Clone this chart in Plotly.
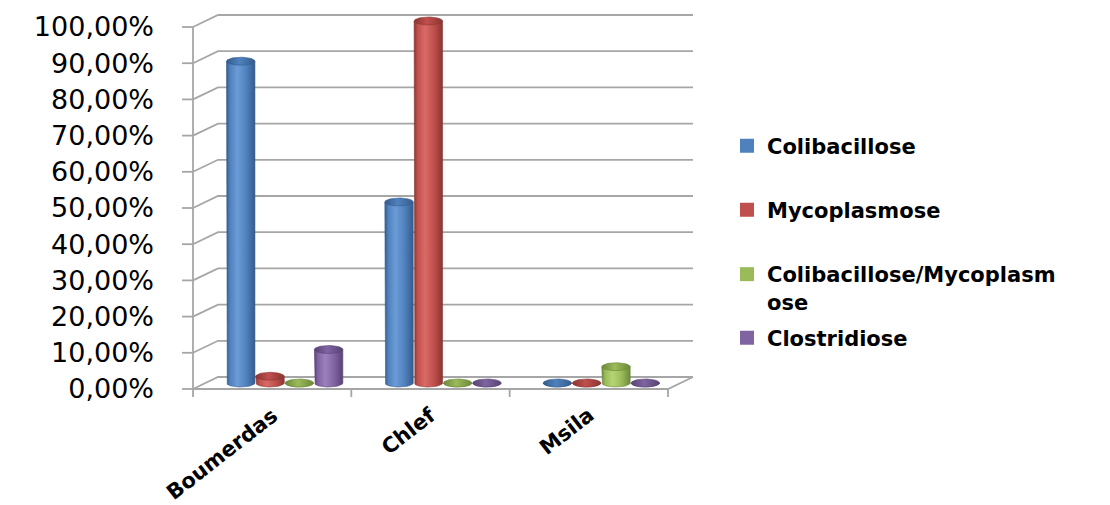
import numpy as np
import plotly.graph_objects as go

# ---- data -------------------------------------------------------------
regions = ["Boumerdas", "Chlef", "Msila"]
series = ["Colibacillose", "Mycoplasmose", "Colibacillose/Mycoplasmose", "Clostridiose"]
legend_labels = ["Colibacillose", "Mycoplasmose", "Colibacillose/Mycoplasm<br>ose", "Clostridiose"]

colibacillose = [88.89, 50.00, 0.00]
mycoplasmose = [1.85, 100.00, 0.00]
coli_myco = [0.00, 0.00, 4.50]
clostridiose = [9.26, 0.00, 0.00]
values = [colibacillose, mycoplasmose, coli_myco, clostridiose]

y_ticks = list(range(0, 101, 10))
y_tick_text = [f"{v:.2f}".replace(".", ",") + "%" for v in y_ticks]

# ---- palette (base, dark edge, highlight) -----------------------------
palette = [
    ("#4F81BD", "#345C8D", "#6C9CD8"),
    ("#C0504D", "#8A3532", "#D96A66"),
    ("#9BBB59", "#6C883A", "#B6D474"),
    ("#8064A2", "#574274", "#9C80BE"),
]

# ---- pseudo-3D geometry (axis units) ----------------------------------
PX_X = 475 / 3          # pixels per category unit
PX_Y = 3.62             # pixels per percent
DX = 25 / PX_X          # depth offset to the back wall
DY = 12 / PX_Y
BW = 29.3 / PX_X        # cylinder diameter
EB = 4.0 / PX_Y         # ellipse half-height

FRONT_LEFT_PX, FLOOR_PX = 193, 389
xlo, xhi = -0.5 - 20 / PX_X, 2.5 + DX + 3 / PX_X
ylo, yhi = -10 / PX_Y, 100 + DY + 3 / PX_Y
m_l = FRONT_LEFT_PX + (xlo + 0.5) * PX_X
m_r = 1110 - (FRONT_LEFT_PX + (xhi + 0.5) * PX_X)
m_t = FLOOR_PX - yhi * PX_Y
m_b = 505 - (FLOOR_PX - ylo * PX_Y)
plot_h = 505 - m_t - m_b
plot_w = 1110 - m_l - m_r

fig = go.Figure()

GRID = "#A6A6A6"

# walls, floor and gridlines
gx, gy = [], []
for v in y_ticks:
    gx += [-0.5, -0.5 + DX, 2.5 + DX, None]
    gy += [v, v + DY, v + DY, None]
# front value axis with its tick marks
gx += [-0.5, -0.5, None]
gy += [0, 100, None]
for v in y_ticks:
    gx += [-0.5 - 11 / PX_X, -0.5, None]
    gy += [v, v, None]
# floor front edge, right edge and category ticks
gx += [-0.5, 2.5, 2.5 + DX, None]
gy += [0, 0, DY, None]
for k in range(len(regions) + 1):
    gx += [-0.5 + k, -0.5 + k, None]
    gy += [0, -8 / PX_Y, None]
fig.add_trace(go.Scatter(x=gx, y=gy, mode="lines", line=dict(color=GRID, width=1.8),
                         hoverinfo="skip", showlegend=False))

# cylinders
theta = np.linspace(0, np.pi, 40)
theta_full = np.linspace(0, 2 * np.pi, 80)
yb = DY / 2
for i, region in enumerate(regions):
    for k, name in enumerate(series):
        base, dark, light = palette[k]
        val = values[k][i]
        xc = i + (k - 1.5) * BW + DX / 2
        a = BW / 2 * 0.97
        yt = yb + val
        # body: sides plus the front half of the bottom rim
        bx = [xc - a, xc - a] + list(xc - a * np.cos(theta)) + [xc + a, xc - a]
        by = [yt, yb] + list(yb - EB * np.sin(theta)) + [yt, yt]
        fig.add_trace(go.Scatter(
            x=bx, y=by, mode="lines", fill="toself",
            line=dict(color=dark, width=0.6),
            fillgradient=dict(type="horizontal",
                              colorscale=[[0, dark], [0.12, base], [0.38, light],
                                          [0.7, base], [1, dark]]),
            hovertemplate=f"{region}<br>{name}: {val:.2f}%<extra></extra>".replace(".", ","),
            showlegend=False))
        # top cap
        cx = xc + a * np.cos(theta_full)
        cy = yt + EB * np.sin(theta_full)
        fig.add_trace(go.Scatter(
            x=cx, y=cy, mode="lines", fill="toself",
            line=dict(color=dark, width=0.6),
            fillgradient=dict(type="horizontal",
                              colorscale=[[0, dark], [0.45, base], [1, dark]]),
            hoverinfo="skip", showlegend=False))

# legend entries, one legend box per series
legend_centers = [146, 210, 288, 338]
legend_left_px = 727
for k, label in enumerate(legend_labels):
    lname = "legend" if k == 0 else f"legend{k + 1}"
    fig.add_trace(go.Scatter(x=[None], y=[None], name=label, mode="markers",
                             marker=dict(symbol="square", size=14, color=palette[k][0]),
                             legend=lname, showlegend=True))
    fig.layout[lname] = dict(
        x=(legend_left_px - m_l) / plot_w,
        y=(505 - m_b - legend_centers[k]) / plot_h,
        xanchor="left", yanchor="middle", valign="top",
        bgcolor="rgba(0,0,0,0)", borderwidth=0,
        font=dict(family="DejaVu Sans", size=21, color="black", weight="bold"),
    )

# category labels
for i, region in enumerate(regions):
    fig.add_annotation(x=i + 13 / PX_X, y=(505 - m_b - 400) / plot_h,
                       xref="x", yref="paper", text=region, showarrow=False,
                       textangle=-38, xanchor="right", yanchor="top",
                       font=dict(family="DejaVu Sans", size=21, color="black", weight="bold"))

fig.update_layout(
    width=1110, height=505, autosize=False,
    margin=dict(l=m_l, r=m_r, t=m_t, b=m_b, pad=0),
    paper_bgcolor="white", plot_bgcolor="white",
    xaxis=dict(range=[xlo, xhi], showgrid=False, zeroline=False, showline=False,
               showticklabels=False, ticks="", fixedrange=True),
    yaxis=dict(range=[ylo, yhi], showgrid=False, zeroline=False, showline=False,
               tickmode="array", tickvals=y_ticks, ticktext=y_tick_text, ticks="",
               ticklabelstandoff=18,
               tickfont=dict(family="DejaVu Sans", size=27, color="black"),
               fixedrange=True),
    showlegend=True,
)

fig.write_html("out.html")
